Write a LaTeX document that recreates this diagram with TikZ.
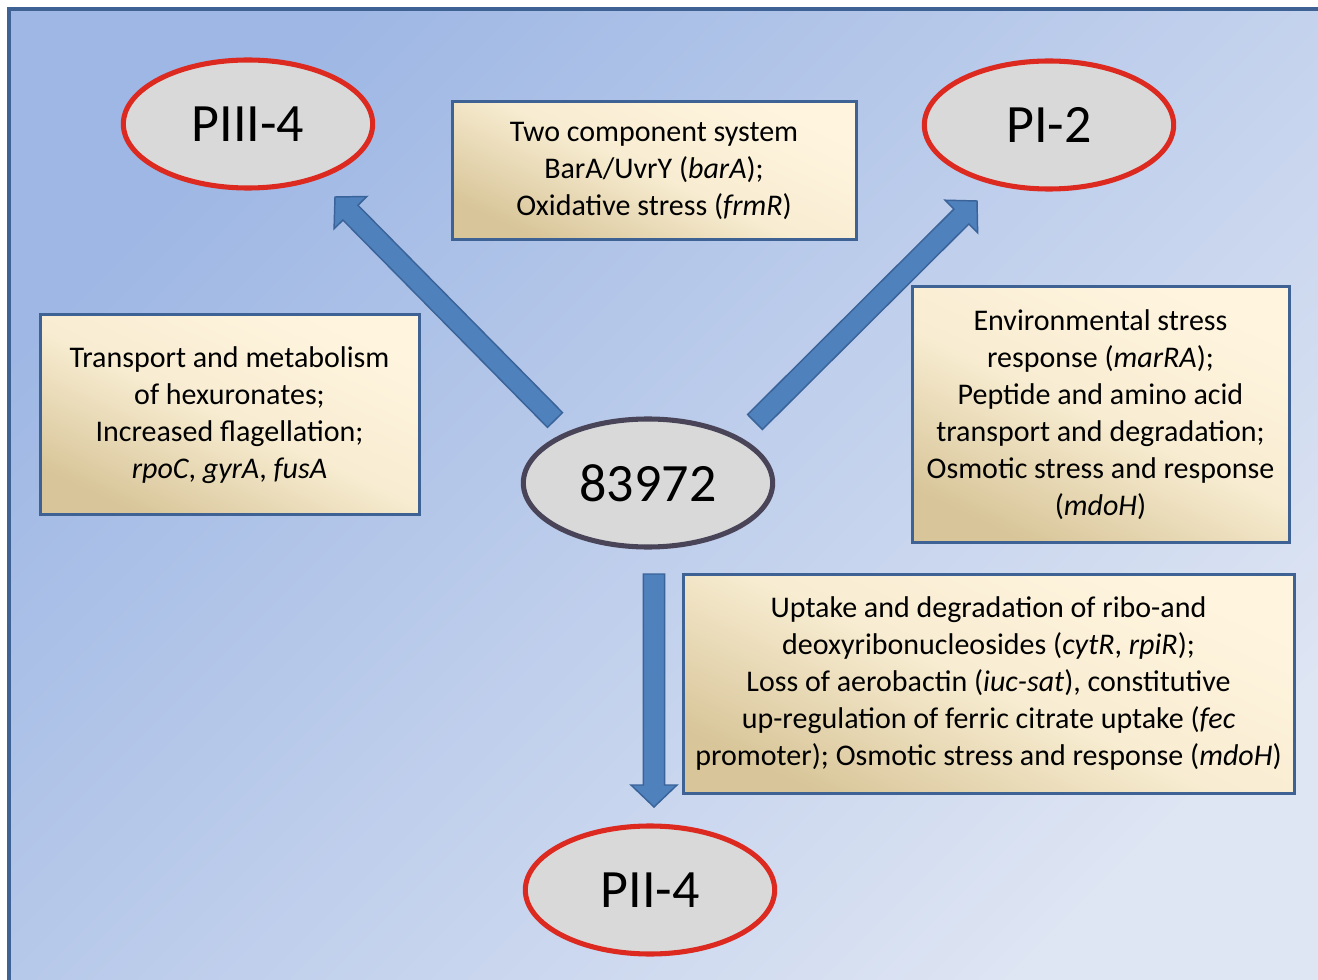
\documentclass[tikz,border=0pt]{standalone}
\usepackage{fontspec}
\setmainfont{Carlito}
\usetikzlibrary{calc,shapes.geometric}
\definecolor{framec}{HTML}{3F6294}
\definecolor{bgtl}{HTML}{9EB7E4}
\definecolor{bgbr}{HTML}{DEE5F3}
\definecolor{boxtop}{HTML}{FFF4DE}
\definecolor{boxmid}{HTML}{F8EDD2}
\definecolor{boxbot}{HTML}{D8C599}
\definecolor{ellred}{HTML}{DC2A20}
\definecolor{elldark}{HTML}{4A4459}
\definecolor{ellfill}{HTML}{D9D9D9}
\definecolor{arrfill}{HTML}{4F81BD}
\definecolor{arrdraw}{HTML}{3A639A}
\tikzset{
  infobox/.style={draw=framec, line width=2.25pt, top color=boxtop, bottom color=boxbot, middle color=boxmid, shading angle=-25, align=center, inner sep=0pt, font=\fontsize{22.5}{27.75}\selectfont},
  phase/.style={ellipse, draw=ellred, line width=3.8pt, fill=ellfill, inner sep=0pt, minimum width=187pt, minimum height=96pt, font=\fontsize{40.5}{48}\selectfont},
  origin/.style={phase, draw=elldark},
  blockarrow/.style={fill=arrfill, draw=arrdraw, line width=1.1pt, line join=miter}
}
\newcommand{\blockarr}[2]{%
  \path ($(#2)!16.5pt!(#1)$) coordinate (hb);
  \draw[blockarrow] ($(#1)!7.9pt!90:(#2)$) -- ($(hb)!7.9pt!-90:(#1)$) -- ($(hb)!17.25pt!-90:(#1)$) -- (#2) -- ($(hb)!17.25pt!90:(#1)$) -- ($(hb)!7.9pt!90:(#1)$) -- ($(#1)!7.9pt!-90:(#2)$) -- cycle;
}
\begin{document}
\begin{tikzpicture}[x=0.75pt,y=-0.75pt]
\useasboundingbox (0,0) rectangle (1318,980);
\clip (0,0) rectangle (1318,980);
\fill[white] (0,0) rectangle (1318,980);
\draw[draw=framec, line width=2.5pt, top color=bgtl, bottom color=bgbr, shading angle=45] (9,9) rectangle (1340,1000);

% arrows
\coordinate (t1) at (555,420);
\coordinate (h1) at (335,197);
\coordinate (t2) at (755,422);
\coordinate (h2) at (977,201);
\coordinate (t3) at (654,574);
\coordinate (h3) at (654,807);
\blockarr{t1}{h1}
\blockarr{t2}{h2}
\blockarr{t3}{h3}

% ellipses
\node[phase] (p3) at (248,124) {PIII-4};
\node[phase] (p1) at (1049,125) {PI-2};
\node[origin] (c) at (648,483) {83972};
\node[phase] (p2) at (650,890) {PII-4};

% boxes
\node[infobox, minimum width=303pt, minimum height=103.5pt] (btop) at (654,171)
  {Two component system\\BarA/UvrY (\textit{barA});\\Oxidative stress (\textit{frmR})};
\node[infobox, minimum width=284.25pt, minimum height=150pt] (bleft) at (229.5,415)
  {Transport and metabolism\\of hexuronates;\\Increased flagellation;\\\textit{rpoC}, \textit{gyrA}, \textit{fusA}};
\node[infobox, minimum width=282.75pt, minimum height=192pt] (bright) at (1100.5,415)
  {Environmental stress\\response (\textit{marRA});\\Peptide and amino acid\\transport and degradation;\\Osmotic stress and response\\(\textit{mdoH})};
\node[infobox, minimum width=458.25pt, minimum height=164.25pt] (bbot) at (988.5,683.5)
  {Uptake and degradation of ribo-and\\deoxyribonucleosides (\textit{cytR}, \textit{rpiR});\\Loss of aerobactin (\textit{iuc-sat}), constitutive\\up-regulation of ferric citrate uptake (\textit{fec}\\promoter); Osmotic stress and response (\textit{mdoH})};
\end{tikzpicture}
\end{document}
